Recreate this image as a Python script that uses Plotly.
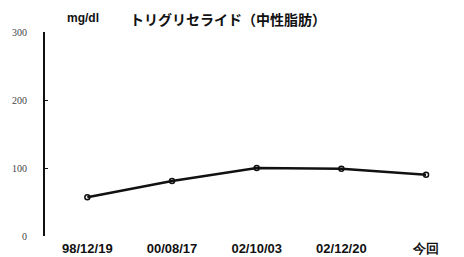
import plotly.graph_objects as go

categories = ["98/12/19", "00/08/17", "02/10/03", "02/12/20", "今回"]
values = [57, 81, 100, 99, 90]
y_ticks = [0, 100, 200, 300]

xs = list(range(len(categories)))

fig = go.Figure()
fig.add_trace(go.Scatter(
    x=xs, y=values, mode="lines+markers",
    line=dict(color="#111111", width=2.6),
    marker=dict(symbol="circle-open", size=5, color="#111111", line=dict(width=1.5)),
    showlegend=False,
))

# page body has an 8px margin, so the figure is sized to fill the rest of the window
fig.update_layout(
    width=456, height=249,
    margin=dict(l=37, r=21, t=24, b=21),
    paper_bgcolor="white", plot_bgcolor="white",
    font=dict(family="Noto Sans CJK JP", color="#111111"),
    xaxis=dict(
        range=[-0.5, 4.2], tickmode="array", tickvals=xs,
        ticktext=["<b>%s</b>" % c for c in categories],
        showgrid=False, zeroline=False, showline=False, ticks="",
        tickfont=dict(size=13, family="Liberation Sans", color="#111111"),
        ticklabelstandoff=3, automargin=False,
    ),
    yaxis=dict(
        range=[0, 300], tickmode="array", tickvals=y_ticks,
        ticktext=[str(v) for v in y_ticks],
        showgrid=False, zeroline=False, showline=True, linecolor="#111111", linewidth=2,
        ticks="inside", ticklen=3, tickcolor="#111111",
        tickfont=dict(size=10, family="Liberation Serif", color="#444444"),
        ticklabelstandoff=14, automargin=False,
    ),
    annotations=[
        dict(text="<b>トリグリセライド（中性脂肪）</b>", x=(228 - 45) / 398, y=1 + 13 / 204,
             xref="paper", yref="paper", xanchor="center", yanchor="middle",
             showarrow=False, font=dict(size=14, family="Noto Sans CJK JP", color="#111111")),
        dict(text="<b>mg/dl</b>", x=(83 - 45) / 398, y=1 + 14 / 204, xref="paper", yref="paper",
             xanchor="center", yanchor="middle", showarrow=False,
             font=dict(size=12, family="Liberation Sans", color="#111111")),
    ],
)

fig.write_html("out.html")
